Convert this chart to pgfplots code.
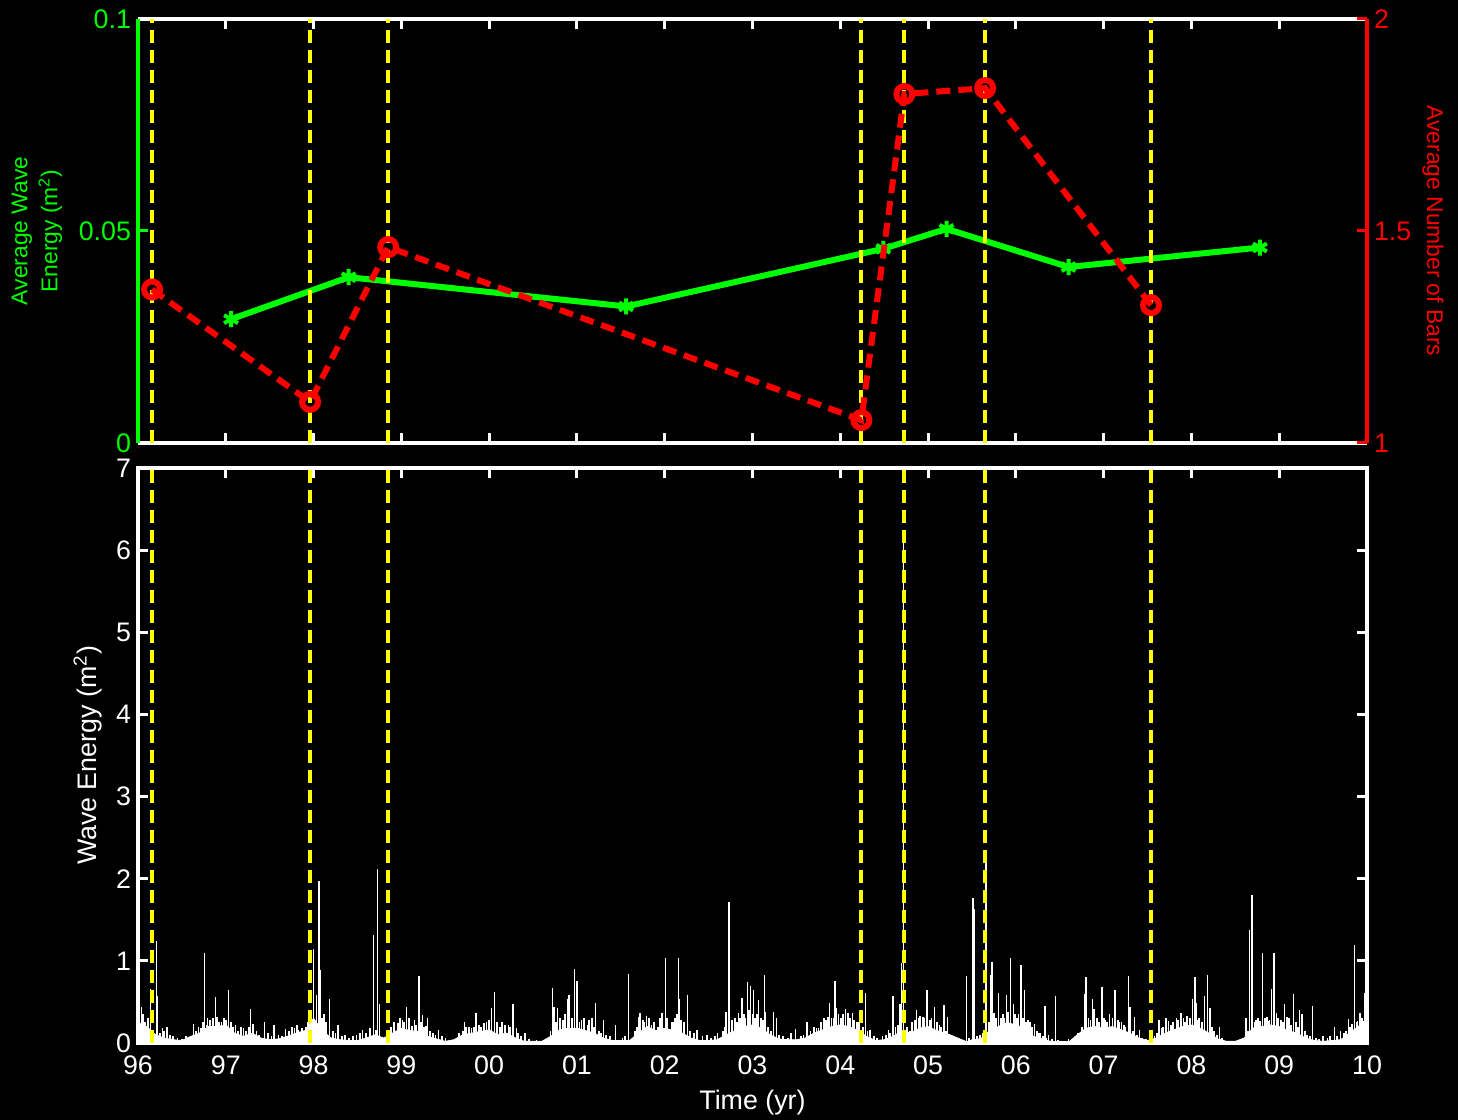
\documentclass[border=0pt]{standalone}
\usepackage{fontspec}
\setmainfont{Liberation Sans}
\usepackage{pgfplots}
\pgfplotsset{compat=1.18}
\definecolor{mgreen}{RGB}{0,255,0}
\definecolor{mred}{RGB}{255,0,0}
\definecolor{myellow}{RGB}{255,255,0}
\pgfplotsset{
 common/.style={
  width=614.5pt, scale only axis, xmin=96, xmax=110,
  tick align=inside, major tick length=5pt,
  /pgf/number format/assume math mode=true,
  tick label style={font=\fontsize{13.4}{15}\selectfont},
 },
 yl/.style={myellow, line width=2pt, dash pattern=on 6.5pt off 3.5pt, forget plot},
}
\begin{document}
\begin{tikzpicture}
\fill[black] (-69pt,-38.5pt) rectangle (660pt,521.5pt);
% ---------------- bottom panel ----------------
\begin{axis}[common, at={(0,0)}, anchor=south west, height=287.5pt,
 ymin=0, ymax=7,
 axis line style={white, line width=2pt},
 tick style={white, line width=1.5pt},
 xtick pos=both, ytick pos=both,
 xtick={96,...,110},
 xticklabels={96,97,98,99,00,01,02,03,04,05,06,07,08,09,10},
 ytick={0,...,7},
 tick label style={text=white},
 xticklabel style={yshift=-3pt},
 xlabel={Time (yr)},
 ylabel={Wave Energy (m\textsuperscript{2})},
 xlabel style={white, font=\fontsize{13.4}{15}\selectfont, at={(axis description cs:0.5,0)}, yshift=-30pt, anchor=center},
 ylabel style={white, font=\fontsize{13.4}{15}\selectfont, at={(axis description cs:-0.0407,0.5)}, anchor=center},
]
\addplot[draw=white, fill=white, line width=0.4pt] coordinates {
(96.0,0.25)(96.1,0.2)(96.2,0.1)(96.3,0.06)(96.4,0.04)(96.5,0.03)(96.6,0.08)(96.7,0.12)(96.8,0.2)(96.9,0.2)
(97.0,0.22)(97.1,0.12)(97.2,0.08)(97.3,0.12)(97.4,0.06)(97.5,0.04)(97.6,0.05)(97.7,0.08)(97.8,0.12)(97.9,0.15)
(98.0,0.3)(98.1,0.15)(98.2,0.06)(98.3,0.04)(98.4,0.03)(98.5,0.03)(98.6,0.06)(98.7,0.1)(98.8,0.06)(98.9,0.12)
(99.0,0.18)(99.1,0.15)(99.2,0.14)(99.3,0.08)(99.4,0.05)(99.5,0.02)(99.6,0.04)(99.7,0.1)(99.8,0.12)(99.9,0.14)
(100.0,0.16)(100.1,0.1)(100.2,0.12)(100.3,0.06)(100.4,0.02)(100.5,0.02)(100.6,0.02)(100.7,0.08)(100.8,0.16)(100.9,0.18)
(101.0,0.18)(101.1,0.15)(101.2,0.12)(101.3,0.06)(101.4,0.03)(101.5,0.03)(101.6,0.03)(101.7,0.12)(101.8,0.2)(101.9,0.15)
(102.0,0.18)(102.1,0.15)(102.2,0.12)(102.3,0.06)(102.4,0.03)(102.5,0.03)(102.6,0.04)(102.7,0.1)(102.8,0.15)(102.9,0.2)
(103.0,0.22)(103.1,0.18)(103.2,0.1)(103.3,0.05)(103.4,0.04)(103.5,0.04)(103.6,0.06)(103.7,0.12)(103.8,0.16)(103.9,0.2)
(104.0,0.22)(104.1,0.2)(104.2,0.15)(104.3,0.08)(104.4,0.03)(104.5,0.04)(104.6,0.08)(104.7,0.15)(104.8,0.12)(104.9,0.18)
(105.0,0.2)(105.1,0.15)(105.2,0.12)(105.25,0.1)(105.45,0.01)(105.5,0.04)(105.6,0.05)(105.7,0.15)(105.8,0.2)(105.9,0.25)
(106.0,0.22)(106.1,0.18)(106.2,0.08)(106.3,0.05)(106.4,0.02)(106.5,0.01)(106.6,0.01)(106.7,0.1)(106.8,0.18)(106.9,0.2)
(107.0,0.18)(107.1,0.2)(107.2,0.16)(107.3,0.12)(107.4,0.06)(107.5,0.03)(107.6,0.06)(107.7,0.12)(107.8,0.16)(107.9,0.2)
(108.0,0.22)(108.1,0.18)(108.2,0.12)(108.3,0.05)(108.4,0.02)(108.5,0.02)(108.6,0.06)(108.7,0.18)(108.8,0.2)(108.9,0.22)
(109.0,0.2)(109.1,0.15)(109.2,0.12)(109.3,0.06)(109.4,0.03)(109.5,0.02)(109.6,0.03)(109.7,0.04)(109.8,0.12)(109.9,0.2)
(110.0,0.3)
} \closedcycle;
% small background spikes
\addplot[ycomb, white, line width=0.9pt, mark=none] coordinates {
(96.01,0.3)(96.06,0.35)(96.08,0.25)(96.11,0.3)(96.25,0.12)(96.30,0.15)(96.36,0.1)(96.40,0.08)(96.45,0.06)(96.50,0.05)(96.55,0.08)
(96.66,0.15)(96.69,0.2)(96.72,0.18)(96.74,0.25)(96.78,0.22)(96.82,0.28)(96.85,0.3)(96.90,0.32)(96.92,0.25)(96.98,0.3)(97.00,0.28)
(97.06,0.25)(97.08,0.2)(97.14,0.15)(97.17,0.2)(97.23,0.14)(97.26,0.2)(97.35,0.15)(97.38,0.1)(97.48,0.12)(97.52,0.08)(97.60,0.1)
(97.64,0.08)(97.72,0.15)(97.75,0.2)(97.81,0.22)(97.87,0.18)(97.91,0.2)(97.94,0.25)
(98.10,0.3)(98.12,0.35)(98.14,0.25)(98.22,0.15)(98.25,0.12)(98.32,0.08)(98.40,0.06)(98.45,0.08)(98.49,0.1)(98.60,0.12)(98.64,0.18)
(98.88,0.2)(98.92,0.25)(98.98,0.3)(99.03,0.25)(99.09,0.3)(99.15,0.28)(99.17,0.22)(99.22,0.25)(99.26,0.2)(99.33,0.15)(99.36,0.12)(99.39,0.1)(99.46,0.08)
(99.66,0.12)(99.70,0.15)(99.74,0.2)(99.80,0.18)(99.83,0.2)(99.88,0.22)(99.91,0.2)(99.97,0.25)(100.00,0.28)(100.12,0.2)(100.15,0.25)
(100.18,0.22)(100.24,0.2)(100.33,0.12)(100.36,0.08)(100.45,0.05)
(100.70,0.15)(100.76,0.25)(100.81,0.3)(100.84,0.28)(100.86,0.35)(100.94,0.3)(101.03,0.25)(101.08,0.3)(101.12,0.22)(101.14,0.28)
(101.19,0.2)(101.25,0.15)(101.27,0.12)(101.33,0.1)(101.38,0.08)(101.52,0.06)(101.55,0.08)
(101.66,0.15)(101.68,0.2)(101.75,0.28)(101.77,0.25)(101.82,0.3)(101.85,0.22)(101.88,0.25)(101.92,0.2)(101.95,0.3)(102.03,0.3)
(102.08,0.25)(102.12,0.3)(102.14,0.35)(102.19,0.28)(102.22,0.25)(102.29,0.15)(102.33,0.12)(102.43,0.08)(102.53,0.06)(102.57,0.08)
(102.66,0.15)(102.68,0.2)(102.77,0.28)(102.80,0.3)(102.82,0.25)(102.86,0.3)(102.90,0.35)(102.92,0.3)(102.96,0.4)(103.00,0.35)
(103.03,0.3)(103.05,0.35)(103.10,0.3)(103.12,0.28)(103.18,0.2)(103.21,0.15)(103.30,0.1)(103.35,0.08)(103.40,0.06)(103.55,0.08)(103.58,0.1)
(103.66,0.15)(103.70,0.2)(103.73,0.18)(103.78,0.25)(103.81,0.3)(103.84,0.28)(103.86,0.32)(103.90,0.3)(103.98,0.35)(104.01,0.3)
(104.03,0.35)(104.11,0.3)(104.16,0.28)(104.21,0.25)(104.26,0.2)(104.31,0.15)(104.38,0.08)(104.42,0.06)(104.48,0.08)(104.52,0.1)(104.57,0.12)
(104.63,0.2)(104.66,0.22)(104.76,0.2)(104.79,0.15)(104.82,0.25)(104.85,0.28)(104.89,0.3)(104.94,0.32)(104.96,0.3)(105.02,0.28)
(105.04,0.3)(105.10,0.25)(105.13,0.22)(105.15,0.2)(105.20,0.15)(105.47,0.06)(105.56,0.08)(105.59,0.1)(105.62,0.12)
(105.69,0.25)(105.77,0.3)(105.78,0.28)(105.85,0.35)(105.87,0.3)(105.91,0.38)(105.99,0.35)(106.01,0.3)(106.08,0.3)(106.12,0.25)
(106.14,0.28)(106.18,0.2)(106.24,0.15)(106.26,0.12)(106.31,0.08)(106.35,0.06)(106.41,0.05)(106.48,0.04)
(106.71,0.12)(106.75,0.2)(106.85,0.28)(106.92,0.3)(106.95,0.25)(107.00,0.3)(107.02,0.28)(107.04,0.25)(107.10,0.3)(107.16,0.28)
(107.18,0.25)(107.23,0.22)(107.25,0.2)(107.33,0.15)(107.38,0.1)(107.44,0.06)(107.48,0.05)
(107.58,0.08)(107.61,0.12)(107.66,0.18)(107.68,0.2)(107.77,0.22)(107.79,0.25)(107.85,0.28)(107.91,0.3)(107.93,0.25)(107.98,0.3)
(108.07,0.28)(108.09,0.3)(108.12,0.25)(108.23,0.2)(108.26,0.15)(108.29,0.1)(108.35,0.06)
(108.64,0.15)(108.72,0.25)(108.74,0.28)(108.76,0.3)(108.84,0.3)(108.86,0.32)(108.89,0.28)(108.99,0.3)(109.02,0.28)(109.04,0.25)
(109.11,0.3)(109.13,0.22)(109.19,0.25)(109.21,0.2)(109.29,0.15)(109.32,0.1)(109.35,0.08)(109.42,0.06)(109.45,0.05)(109.55,0.06)
(109.58,0.08)(109.66,0.08)(109.74,0.12)(109.76,0.15)(109.81,0.2)(109.88,0.25)(109.94,0.3)(109.99,0.35)
};
% main spikes
\addplot[ycomb, white, line width=0.7pt, mark=none] coordinates {
(96.02,0.52)(96.04,0.44)(96.14,0.66)(96.21,1.24)(96.22,0.57)(96.28,0.18)(96.33,0.19)(96.63,0.23)(96.76,1.10)(96.79,0.30)
(96.88,0.56)(96.95,0.26)(97.03,0.64)(97.11,0.22)(97.20,0.18)(97.28,0.41)(97.31,0.23)(97.44,0.25)(97.55,0.22)(97.68,0.17)
(97.78,0.18)(97.83,0.16)(98.00,1.15)(98.03,0.58)(98.06,1.97)(98.08,0.89)(98.18,0.53)(98.28,0.22)(98.36,0.10)(98.53,0.12)
(98.56,0.16)(98.68,1.31)(98.71,0.16)(98.73,2.12)(98.75,0.48)(98.96,0.24)(99.01,0.28)(99.06,0.44)(99.12,0.21)(99.20,0.81)
(99.24,0.34)(99.28,0.21)(99.30,0.31)(99.42,0.16)(99.50,0.06)
(99.72,0.26)(99.77,0.19)(99.85,0.37)(99.94,0.24)(100.03,0.43)(100.06,0.62)(100.09,0.26)(100.22,0.22)(100.27,0.48)(100.31,0.18)
(100.41,0.12)(100.54,0.04)(100.72,0.67)(100.74,0.44)(100.78,0.43)(100.89,0.53)(100.91,0.59)(100.97,0.90)(101.00,0.75)(101.05,0.28)
(101.17,0.31)(101.21,0.49)(101.30,0.28)(101.44,0.22)(101.59,0.84)(101.70,0.32)(101.72,0.37)(101.79,0.33)(101.97,0.37)(102.01,1.04)
(102.06,0.14)(102.10,0.26)(102.16,1.04)(102.17,0.53)(102.26,0.58)(102.37,0.16)(102.48,0.10)(102.60,0.12)(102.70,0.38)(102.73,1.72)
(102.74,0.42)(102.84,0.37)(102.88,0.55)(102.94,0.74)(102.98,0.70)(103.01,0.65)(103.07,0.52)(103.14,0.83)(103.15,0.38)
(103.24,0.38)(103.27,0.31)(103.44,0.12)(103.49,0.17)(103.62,0.25)(103.75,0.18)(103.88,0.49)(103.92,0.31)(103.94,0.76)(103.96,0.43)
(104.06,0.41)(104.09,0.37)(104.14,0.37)(104.19,0.26)(104.29,0.61)(104.34,0.16)(104.55,0.16)(104.60,0.57)(104.68,0.48)(104.70,0.97)
(104.72,6.25)(104.87,0.40)(104.91,0.33)(104.99,0.65)(105.07,0.44)(105.18,0.46)(105.22,0.32)(105.44,0.82)(105.51,1.77)(105.53,1.63)
(105.66,2.35)(105.71,0.83)(105.73,0.99)(105.75,0.37)(105.80,0.61)(105.83,0.30)(105.89,0.59)(105.94,1.04)(105.97,0.47)(106.03,0.35)
(106.05,0.85)(106.06,0.95)(106.10,0.64)(106.16,0.26)(106.21,0.23)(106.28,0.12)(106.33,0.45)(106.37,0.10)(106.45,0.57)(106.60,0.05)
(106.73,0.06)
(106.78,0.60)(106.80,0.80)(106.83,0.30)(106.87,0.54)(106.89,0.42)(106.98,0.68)(107.07,0.35)(107.13,0.65)(107.20,0.26)(107.28,0.82)
(107.30,0.44)(107.35,0.32)(107.41,0.16)(107.63,0.28)(107.71,0.30)(107.74,0.27)(107.83,0.30)(107.88,0.36)(107.95,0.33)(108.01,0.54)
(108.04,0.80)(108.05,0.49)(108.15,0.57)(108.18,0.83)(108.21,0.43)(108.32,0.19)(108.62,0.31)(108.66,1.38)(108.69,1.80)(108.78,0.27)
(108.81,1.09)(108.87,0.27)(108.91,0.66)(108.94,1.10)(108.97,0.37)(109.06,0.48)(109.09,0.32)(109.16,0.60)(109.23,0.40)(109.26,0.35)
(109.38,0.45)(109.50,0.09)(109.63,0.20)(109.70,0.15)(109.79,0.29)(109.83,0.23)(109.86,1.19)(109.89,0.27)(109.92,0.36)(109.97,0.61)
};
\addplot[yl] coordinates {(96.16,0) (96.16,7)};
\addplot[yl] coordinates {(97.96,0) (97.96,7)};
\addplot[yl] coordinates {(98.85,0) (98.85,7)};
\addplot[yl] coordinates {(104.24,0) (104.24,7)};
\addplot[yl] coordinates {(104.73,0) (104.73,7)};
\addplot[yl] coordinates {(105.65,0) (105.65,7)};
\addplot[yl] coordinates {(107.54,0) (107.54,7)};
\end{axis}
% ---------------- top panel, left axis ----------------
\begin{axis}[common, at={(0,300pt)}, anchor=south west, height=212pt,
 ymin=0, ymax=0.1, clip=false,
 axis x line*=box, axis y line*=left,
 x axis line style={white, line width=2pt, -},
 y axis line style={mgreen, line width=2pt, -},
 xtick={96,...,110}, xticklabels={}, xtick pos=both,
 x tick style={white, line width=1.5pt},
 ytick={0,0.05,0.1}, yticklabels={0,0.05,0.1},
 y tick style={mgreen, line width=1.5pt},
 yticklabel style={text=mgreen},
 ylabel={Average Wave\\Energy (m\textsuperscript{2})},
 ylabel style={mgreen, align=center, font=\fontsize{11.4}{15}\selectfont, at={(axis description cs:-0.0822,0.5)}, anchor=center},
]
\addplot[mgreen, line width=3pt, mark=asterisk, mark size=4pt, mark options={line width=2pt}] coordinates {
(97.06,0.0292)(98.40,0.0391)(101.56,0.0322)(104.49,0.0458)(105.21,0.0505)(106.60,0.0415)(108.78,0.0461)
};
\addplot[yl] coordinates {(96.16,0) (96.16,0.1)};
\addplot[yl] coordinates {(97.96,0) (97.96,0.1)};
\addplot[yl] coordinates {(98.85,0) (98.85,0.1)};
\addplot[yl] coordinates {(104.24,0) (104.24,0.1)};
\addplot[yl] coordinates {(104.73,0) (104.73,0.1)};
\addplot[yl] coordinates {(105.65,0) (105.65,0.1)};
\addplot[yl] coordinates {(107.54,0) (107.54,0.1)};
\end{axis}
% ---------------- top panel, right axis ----------------
\begin{axis}[common, at={(0,300pt)}, anchor=south west, height=212pt,
 ymin=1, ymax=2, clip=false,
 axis x line=none, axis y line*=right,
 y axis line style={mred, line width=2pt, -},
 ytick={1,1.5,2}, yticklabels={1,1.5,2},
 y tick style={mred, line width=1.5pt},
 yticklabel style={text=mred},
 ylabel={Average Number of Bars},
 ylabel style={mred, font=\fontsize{11.4}{12.5}\selectfont, at={(axis description cs:1.0537,0.5)}, anchor=center, rotate=180},
]
\addplot[mred, line width=3pt, dash pattern=on 7pt off 4pt, mark=o, mark size=4pt, mark options={solid, line width=3pt}] coordinates {
(96.16,1.362)(97.96,1.097)(98.85,1.462)(104.24,1.054)(104.73,1.823)(105.65,1.837)(107.54,1.325)
};
\end{axis}
\pgfresetboundingbox
\useasboundingbox (-69pt,-38.5pt) rectangle (660pt,521.5pt);
\end{tikzpicture}
\end{document}
